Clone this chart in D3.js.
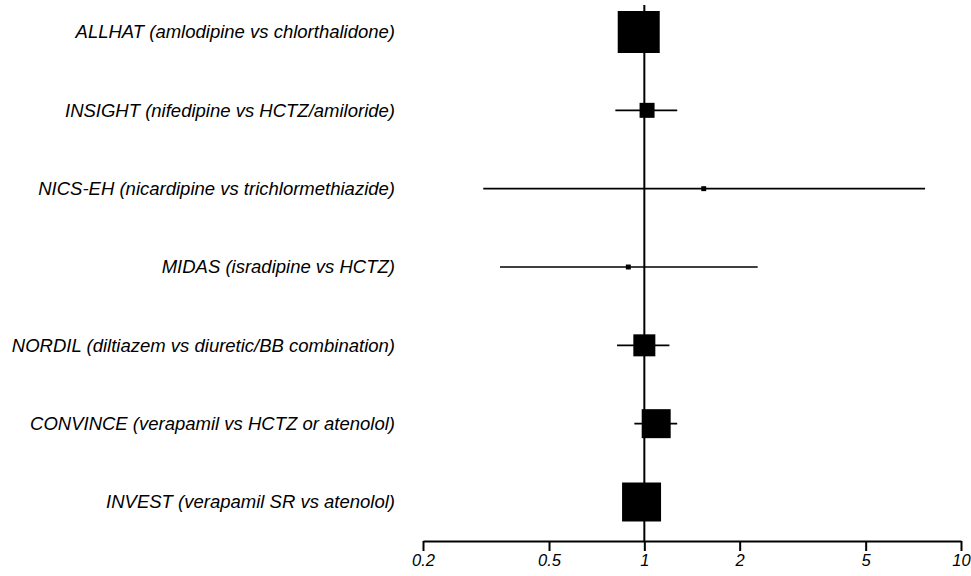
<!DOCTYPE html>
<html>
<head>
<meta charset="utf-8">
<script src="https://cdn.jsdelivr.net/npm/d3@7"></script>
<style>
  html, body { margin: 0; padding: 0; background: #fff; }
  svg { display: block; }
  text { font-family: "Liberation Sans", Arial, sans-serif; font-style: italic; fill: #000; }
</style>
</head>
<body>
<svg id="chart" width="971" height="576"></svg>
<script>
// Trials (calcium channel blocker vs comparator)
const trials = [
  "ALLHAT (amlodipine vs chlorthalidone)",
  "INSIGHT (nifedipine vs HCTZ/amiloride)",
  "NICS-EH (nicardipine vs trichlormethiazide)",
  "MIDAS (isradipine vs HCTZ)",
  "NORDIL (diltiazem vs diuretic/BB combination)",
  "CONVINCE (verapamil vs HCTZ or atenolol)",
  "INVEST (verapamil SR vs atenolol)"
];
// Point estimates and 95% confidence limits
const estimates = [0.96, 1.02, 1.54, 0.89, 1.00, 1.09, 0.98];
const lower     = [0.89, 0.81, 0.31, 0.35, 0.82, 0.93, 0.91];
const upper     = [1.04, 1.27, 7.70, 2.28, 1.20, 1.27, 1.06];
// Relative study weights (%)
const weights   = [36.1, 4.6, 0.5, 0.5, 9.9, 17.2, 31.1];
// Axis ticks
const tickValues = [0.2, 0.5, 1, 2, 5, 10];
const tickLabels = ["0.2", "0.5", "1", "2", "5", "10"];

const svg = d3.select("#chart");

const x = d3.scaleLog().domain([0.2, 10]).range([423, 961]);
const y = d3.scalePoint().domain(trials).range([32, 502]);
const side = d3.scaleSqrt().domain([0, d3.max(weights)]).range([0, 42]);
const axisY = 541;

const rows = trials.map((t, i) => ({
  name: t, est: estimates[i], lo: lower[i], hi: upper[i], w: weights[i]
}));

// Line of no effect
svg.append("line")
  .attr("x1", x(1)).attr("x2", x(1))
  .attr("y1", 5).attr("y2", axisY)
  .attr("stroke", "#000").attr("stroke-width", 2);

// Confidence intervals
svg.append("g").selectAll("line")
  .data(rows).join("line")
  .attr("x1", d => x(d.lo)).attr("x2", d => x(d.hi))
  .attr("y1", d => y(d.name)).attr("y2", d => y(d.name))
  .attr("stroke", "#000").attr("stroke-width", 1.6);

// Point estimates, sized by weight
svg.append("g").selectAll("rect")
  .data(rows).join("rect")
  .attr("x", d => x(d.est) - side(d.w) / 2)
  .attr("y", d => y(d.name) - side(d.w) / 2)
  .attr("width", d => side(d.w))
  .attr("height", d => side(d.w))
  .attr("fill", "#000");

// Trial labels
svg.append("g").selectAll("text")
  .data(rows).join("text")
  .attr("x", 395)
  .attr("y", d => y(d.name))
  .attr("dy", "0.35em")
  .attr("text-anchor", "end")
  .attr("font-size", 18.5)
  .text(d => d.name);

// Log axis
const axis = d3.axisBottom(x)
  .tickValues(tickValues)
  .tickFormat((d, i) => tickLabels[i])
  .tickSize(10)
  .tickSizeOuter(0)
  .tickPadding(3);

const gAxis = svg.append("g")
  .attr("transform", `translate(0,${axisY})`)
  .call(axis);
gAxis.select(".domain").attr("stroke", "#000").attr("stroke-width", 2);
gAxis.selectAll(".tick line").attr("stroke", "#000").attr("stroke-width", 2);
gAxis.selectAll(".tick text")
  .attr("font-size", 16.5)
  .attr("font-family", "Liberation Sans, Arial, sans-serif")
  .attr("font-style", "italic")
  .attr("fill", "#000");
</script>
</body>
</html>
